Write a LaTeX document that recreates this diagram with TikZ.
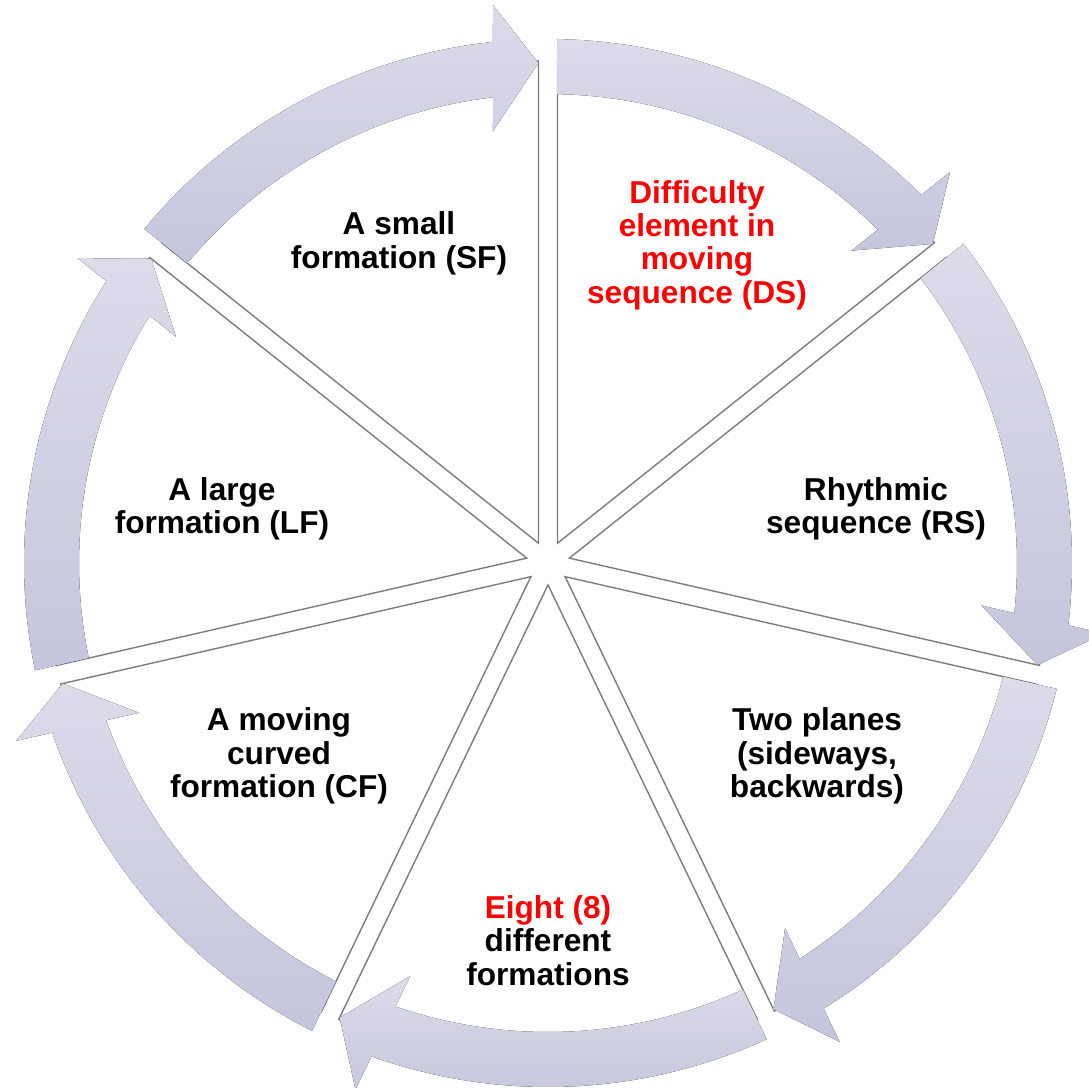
\documentclass[tikz,border=0pt]{standalone}
\usepackage{fontspec}
\setmainfont{Liberation Sans}
\definecolor{arrowtop}{RGB}{219,219,234}
\definecolor{arrowbottom}{RGB}{197,198,221}
\definecolor{sliceline}{RGB}{125,125,125}
\definecolor{hilite}{RGB}{255,0,0}
\tikzset{
  slicebox/.style={fill=white, draw=sliceline, line width=0.4pt, line join=miter},
  arrowbody/.style={top color=arrowtop, bottom color=arrowbottom, draw=none},
  label/.style={font=\fontsize{9}{9.5}\selectfont\bfseries, align=center, inner sep=0pt, text=black},
}
\begin{document}
\begin{tikzpicture}
\useasboundingbox (0,0) rectangle (10.89,10.87);
\begin{scope}[shift={(5.48,5.24)}]
  % seven pie slices, separated by narrow gaps
  \foreach \k in {0,...,6}{
    \pgfmathsetmacro\E{38.5714-51.4286*\k}
    \pgfmathsetmacro\S{\E+51.4286}
    \pgfmathsetmacro\Tip{\E+25.7143}
    \pgfmathsetmacro\Sa{\S-1.084}
    \pgfmathsetmacro\Ea{\E+1.084}
    \filldraw[slicebox] (\Tip:0.219) -- (\Sa:5.02)
      arc[start angle=\Sa, end angle=\Ea, radius=5.02] -- cycle;
  }
  % seven curved arrows running clockwise around the ring
  \foreach \k in {0,...,6}{
    \pgfmathsetmacro\E{38.5714-51.4286*\k}
    \pgfmathsetmacro\Ao{\E+50.39}
    \pgfmathsetmacro\Bo{\E+6.03}
    \pgfmathsetmacro\Wo{\E+5.63}
    \pgfmathsetmacro\Tp{\E+1.09}
    \pgfmathsetmacro\Wi{\E+7.26}
    \pgfmathsetmacro\Bi{\E+6.73}
    \pgfmathsetmacro\Ai{\E+50.27}
    \fill[arrowbody] (\Ao:5.24)
      arc[start angle=\Ao, end angle=\Bo, radius=5.24]
      -- (\Wo:5.607) -- (\Tp:5.0) -- (\Wi:4.355) -- (\Bi:4.69)
      arc[start angle=\Bi, end angle=\Ai, radius=4.69] -- cycle;
  }
\end{scope}
% slice labels
\node[label] (sf) at (3.99,8.435) {A small\\formation (SF)};
\node[label, text=hilite] (ds) at (6.97,8.42) {Difficulty\\element in\\moving\\sequence (DS)};
\node[label] (rs) at (8.76,5.78) {Rhythmic\\sequence (RS)};
\node[label] (tp) at (8.17,3.31) {Two planes\\(sideways,\\backwards)};
\node[label] (ef) at (5.48,1.465) {\textcolor{hilite}{Eight (8)}\\different\\formations};
\node[label] (cf) at (2.79,3.31) {A moving\\curved\\formation (CF)};
\node[label] (lf) at (2.22,5.78) {A large\\formation (LF)};
\end{tikzpicture}
\end{document}
